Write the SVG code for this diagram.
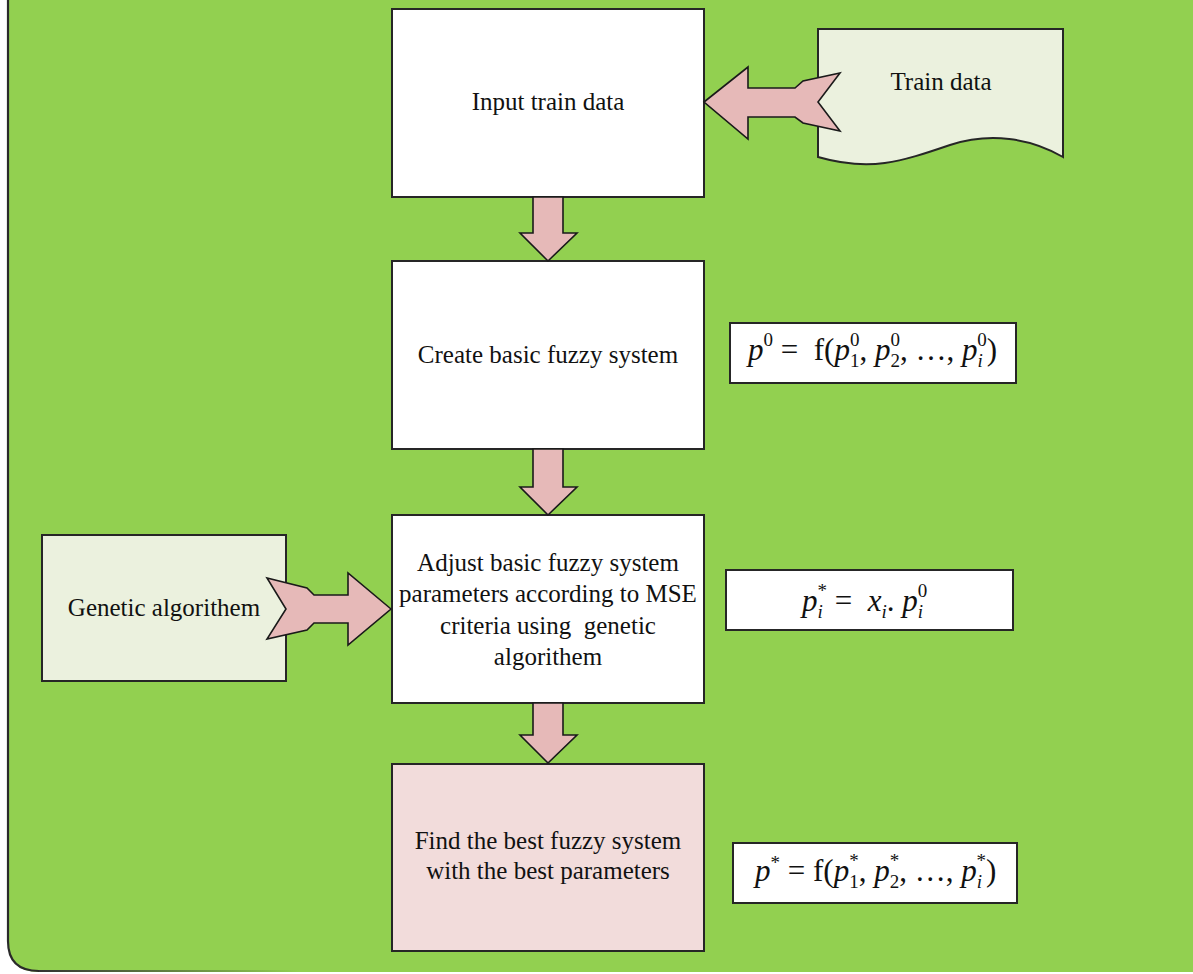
<svg xmlns="http://www.w3.org/2000/svg" width="1193" height="974" viewBox="0 0 1193 974">
<defs>
<style>
.box{stroke:#262626;stroke-width:2}
.t{font-family:"Liberation Serif","Times New Roman",serif;font-size:25px;fill:#111;text-anchor:middle}
.arrow{fill:#E6B9B8;stroke:#1a1a1a;stroke-width:1.6;stroke-linejoin:miter}
.fbox{fill:#fff;stroke:#262626;stroke-width:2}
.m{font-family:"Liberation Serif","Times New Roman",serif;font-size:31px;fill:#111}
.i{font-style:italic}
.s{font-size:19px}
</style>
<linearGradient id="bl" x1="0" y1="0" x2="1" y2="0">
<stop offset="0" stop-color="#333"/>
<stop offset="1" stop-color="#92D050"/>
</linearGradient>
</defs>
<rect width="1193" height="974" fill="#fff"/>
<g id="container">
<path d="M8 0 V941 Q8 972 39 972 H1193 V0 Z" fill="#92D050"/>
<path d="M8 0 V941 Q8 971 39 971" fill="none" stroke="#2a2a2a" stroke-width="2.2"/>
<rect x="39" y="970" width="260" height="2" fill="url(#bl)"/>
</g>
<g id="input-train-data">
<rect class="box" x="392" y="9" width="312" height="188" fill="#fff"/>
<text class="t" x="548" y="110">Input train data</text>
</g>
<g id="train-data">
<path class="box" d="M818 29 H1063 V157 C1030 138 990 132 950 145 C900 162 870 172 818 157 Z" fill="#EBF1DE"/>
<text class="t" x="941" y="90">Train data</text>
</g>
<g id="create-basic">
<rect class="box" x="392" y="261" width="312" height="188" fill="#fff"/>
<text class="t" x="548" y="363">Create basic fuzzy system</text>
</g>
<g id="adjust">
<rect class="box" x="392" y="515" width="312" height="188" fill="#fff"/>
<text class="t" x="548" y="571">Adjust basic fuzzy system</text>
<text class="t" x="548" y="602">parameters according to MSE</text>
<text class="t" x="548" y="634" style="white-space:pre">criteria using  genetic</text>
<text class="t" x="548" y="665">algorithem</text>
</g>
<g id="genetic">
<rect class="box" x="42" y="535" width="244" height="146" fill="#EBF1DE"/>
<text class="t" x="164" y="616">Genetic algorithem</text>
</g>
<g id="find-best">
<rect class="box" x="392" y="764" width="312" height="187" fill="#F2DCDB"/>
<text class="t" x="548" y="849">Find the best fuzzy system</text>
<text class="t" x="548" y="879">with the best parameters</text>
</g>
<g id="connectors">
<polygon class="arrow" points="533,197 563,197 563,233 577,233 548,261 520,233 533,233"/>
<polygon class="arrow" points="533,449 563,449 563,487 577,487 548,515 520,487 533,487"/>
<polygon class="arrow" points="533,703 563,703 563,735 577,735 548,763 520,735 533,735"/>
<polygon class="arrow" points="704,102 748,67 748,88 795,88 803,81 840,73 818,102 840,131 803,123 795,117 748,117 748,139"/>
<polygon class="arrow" points="391,609 348,573 348,595 314,595 307,588 267,578 286,609 267,639 307,630 314,623 348,623 348,645"/>
</g>
<g id="formula-1">
<rect class="fbox" x="730" y="323" width="286" height="60"/>
<text class="m" x="748" y="360" style="white-space:pre"><tspan class="i">p</tspan><tspan class="s" dy="-14">0</tspan><tspan dy="14"> =  f(</tspan><tspan class="i">p</tspan><tspan class="s" dy="7">1</tspan><tspan class="s" dx="-9.5" dy="-21">0</tspan><tspan dy="14">, </tspan><tspan class="i">p</tspan><tspan class="s" dy="7">2</tspan><tspan class="s" dx="-9.5" dy="-21">0</tspan><tspan dy="14">, …, </tspan><tspan class="i">p</tspan><tspan class="s i" dy="7">i</tspan><tspan class="s" dx="-5.3" dy="-21">0</tspan><tspan dy="14">)</tspan></text>
</g>
<g id="formula-2">
<rect class="fbox" x="726" y="570" width="287" height="60"/>
<text class="m" x="802" y="611" style="white-space:pre"><tspan class="i">p</tspan><tspan class="s i" dy="7">i</tspan><tspan class="s" dx="-5.3" dy="-21">*</tspan><tspan dy="14"> =  </tspan><tspan class="i">x</tspan><tspan class="s i" dy="7">i</tspan><tspan dy="-7">. </tspan><tspan class="i">p</tspan><tspan class="s i" dy="7">i</tspan><tspan class="s" dx="-5.3" dy="-21">0</tspan></text>
</g>
<g id="formula-3">
<rect class="fbox" x="733" y="843" width="284" height="60"/>
<text class="m" x="755" y="881" style="white-space:pre"><tspan class="i">p</tspan><tspan class="s" dy="-12">*</tspan><tspan dy="12"> = f(</tspan><tspan class="i">p</tspan><tspan class="s" dy="7">1</tspan><tspan class="s" dx="-9.5" dy="-21">*</tspan><tspan dy="14">, </tspan><tspan class="i">p</tspan><tspan class="s" dy="7">2</tspan><tspan class="s" dx="-9.5" dy="-21">*</tspan><tspan dy="14">, …, </tspan><tspan class="i">p</tspan><tspan class="s i" dy="7">i</tspan><tspan class="s" dx="-5.3" dy="-21">*</tspan><tspan dy="14">)</tspan></text>
</g>
</svg>
